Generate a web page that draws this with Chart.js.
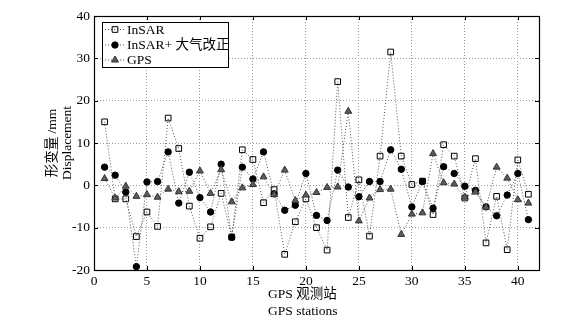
<!DOCTYPE html>
<html>
<head>
<meta charset="utf-8">
<script src="https://cdn.jsdelivr.net/npm/chart.js@4/dist/chart.umd.min.js"></script>
<style>
html,body{margin:0;padding:0;background:#fff;}
#wrap{width:586px;height:323px;position:relative;}
</style>
</head>
<body>
<div id="wrap"><canvas id="c" width="586" height="323"></canvas></div>
<script>
// ---- data ----
const stations = [1,2,3,4,5,6,7,8,9,10,11,12,13,14,15,16,17,18,19,20,21,22,23,24,25,26,27,28,29,30,31,32,33,34,35,36,37,38,39,40,41];
const insar = [15.0,-3.2,-3.2,-12.1,-6.3,-9.7,15.9,8.7,-4.9,-12.5,-9.8,-1.9,-12.2,8.4,6.1,-4.1,-1.0,-16.3,-8.6,-3.2,-10.0,-15.3,24.5,-7.6,1.3,-12.0,6.9,31.5,6.9,0.2,1.0,-6.9,9.6,6.9,-3.0,6.3,-13.6,-2.6,-15.2,6.0,-2.1];
const insarAtm = [4.3,2.4,-1.6,-19.2,0.8,0.9,7.9,-4.2,3.1,-2.9,-6.3,5.0,-12.3,4.3,1.5,7.9,-2.0,-5.9,-4.7,2.8,-7.1,-8.3,3.6,-0.4,-2.7,0.9,0.9,8.4,3.8,-5.1,0.9,-5.4,4.4,2.8,-0.2,-1.2,-5.1,-7.2,-2.3,2.8,-8.1];
const gps = [1.6,-3.0,-0.2,-2.6,-2.2,-2.8,-0.9,-1.5,-1.4,3.4,-1.9,3.7,-3.9,-0.6,0.2,2.0,-2.2,3.6,-3.6,-2.3,-1.7,-0.5,-0.4,17.5,-8.4,-3.0,-1.0,-0.9,-11.6,-6.8,-6.5,7.5,0.6,0.3,-2.8,-1.6,-5.2,4.3,1.7,-3.4,-4.2];
const seriesLabels = ['InSAR','InSAR+ 大气改正','GPS'];
const xTicks = [0,5,10,15,20,25,30,35,40];
const yTicks = [-20,-10,0,10,20,30,40];
const xTitle = ['GPS 观测站','GPS stations'];
const yTitle = ['形变量 /mm','Displacement'];
const xMin = 0, xMax = 42;
const yMin = -20, yMax = 40;

const FONT = '"Liberation Serif","Times New Roman","Noto Sans CJK SC",serif';
const FS = 13.5;

function pts(arr){ return stations.map((s,i)=>({x:s,y:arr[i]})); }

const lineStyle = {borderColor:'#555', borderWidth:1, borderDash:[1,2], tension:0, showLine:true, fill:false};

const datasets = [
  Object.assign({label:seriesLabels[0], data:pts(insar), pointStyle:'rect', pointRadius:4,
    pointBackgroundColor:'rgba(255,255,255,0)', pointBorderColor:'#000', pointBorderWidth:1, order:3}, lineStyle),
  Object.assign({label:seriesLabels[1], data:pts(insarAtm), pointStyle:'circle', pointRadius:3.2,
    pointBackgroundColor:'#000', pointBorderColor:'#000', pointBorderWidth:1, order:2}, lineStyle),
  Object.assign({label:seriesLabels[2], data:pts(gps), pointStyle:'triangle', pointRadius:4,
    pointBackgroundColor:'#5c5c5c', pointBorderColor:'#333', pointBorderWidth:1, order:1}, lineStyle)
];

const framePlugin = {
  id:'frame',
  afterDraw(chart){
    const ctx = chart.ctx, a = chart.chartArea;
    const xs = chart.scales.x, ys = chart.scales.y;
    ctx.save();
    ctx.strokeStyle = '#000'; ctx.lineWidth = 1.2; ctx.setLineDash([]);
    ctx.strokeRect(Math.round(a.left)+0.5, Math.round(a.top)+0.5, Math.round(a.right-a.left), Math.round(a.bottom-a.top));
    ctx.lineWidth = 1;
    ctx.beginPath();
    xs.ticks.forEach(t=>{
      const px = Math.round(xs.getPixelForValue(t.value))+0.5;
      ctx.moveTo(px, a.bottom); ctx.lineTo(px, a.bottom-4);
      ctx.moveTo(px, a.top); ctx.lineTo(px, a.top+4);
    });
    ys.ticks.forEach(t=>{
      const py = Math.round(ys.getPixelForValue(t.value))+0.5;
      ctx.moveTo(a.left, py); ctx.lineTo(a.left+4, py);
      ctx.moveTo(a.right, py); ctx.lineTo(a.right-4, py);
    });
    ctx.stroke();

    const lx = 102.5, ly = 22.5, lw = 126, lh = 45;
    ctx.fillStyle = '#fff';
    ctx.fillRect(lx, ly, lw, lh);
    ctx.strokeStyle = '#000'; ctx.lineWidth = 1;
    ctx.strokeRect(lx, ly, lw, lh);
    const rowY = [29.5, 45, 60];
    chart.data.datasets.forEach((ds,i)=>{
      const y = rowY[i];
      ctx.save();
      ctx.strokeStyle = ds.borderColor; ctx.lineWidth = 1; ctx.setLineDash(ds.borderDash);
      ctx.beginPath(); ctx.moveTo(105, y); ctx.lineTo(125, y); ctx.stroke();
      ctx.setLineDash([]);
      ctx.fillStyle = ds.pointBackgroundColor; ctx.strokeStyle = ds.pointBorderColor; ctx.lineWidth = ds.pointBorderWidth;
      Chart.helpers.drawPoint(ctx, {pointStyle:ds.pointStyle, radius:ds.pointRadius, rotation:0, borderWidth:1}, 115, y);
      ctx.restore();
      ctx.fillStyle = '#000';
      ctx.font = FS + 'px ' + FONT;
      ctx.textAlign = 'left'; ctx.textBaseline = 'middle';
      ctx.fillText(ds.label, 127, y+0.5);
    });

    ctx.fillStyle = '#000';
    ctx.font = FS + 'px ' + FONT;
    ctx.textAlign = 'left'; ctx.textBaseline = 'middle';
    ctx.fillText(xTitle[0], 268, 294.5);
    ctx.fillText(xTitle[1], 268, 311);
    ctx.restore();
  }
};

new Chart(document.getElementById('c'), {
  type:'line',
  data:{datasets},
  options:{
    responsive:false,
    animation:false,
    devicePixelRatio:1,
    layout:{padding:{left:0, top:16, right:47, bottom:0}},
    plugins:{legend:{display:false}, tooltip:{enabled:false}, title:{display:false}},
    scales:{
      x:{
        type:'linear', min:xMin, max:xMax,
        afterBuildTicks:s=>{ s.ticks = xTicks.map(v=>({value:v})); },
        afterFit:s=>{ s.height = 53; },
        ticks:{color:'#000', font:{family:FONT, size:FS}, padding:3, maxRotation:0, autoSkip:false},
        grid:{color:'#9a9a9a', lineWidth:1, drawTicks:false},
        border:{display:false, dash:[1,2]}
      },
      y:{
        type:'linear', min:yMin, max:yMax,
        afterBuildTicks:s=>{ s.ticks = yTicks.map(v=>({value:v})); },
        afterFit:s=>{ s.width = 94; },
        ticks:{color:'#000', font:{family:FONT, size:FS}, padding:4},
        grid:{color:'#9a9a9a', lineWidth:1, drawTicks:false},
        border:{display:false, dash:[1,2]},
        title:{display:true, text:yTitle, color:'#000', font:{family:FONT, size:FS, lineHeight:1.1}, padding:{top:45, bottom:0}}
      }
    }
  },
  plugins:[framePlugin]
});
</script>
</body>
</html>
